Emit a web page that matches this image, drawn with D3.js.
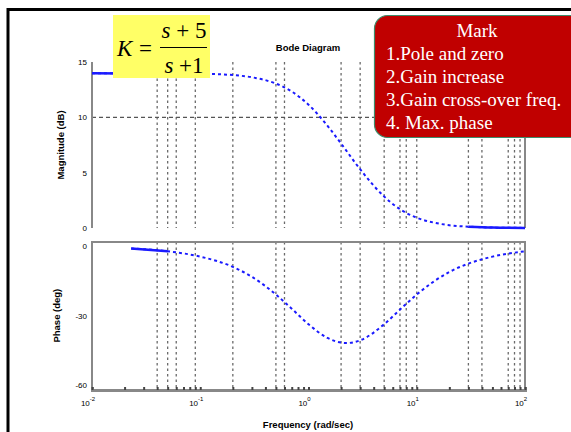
<!DOCTYPE html>
<html>
<head>
<meta charset="utf-8">
<script src="https://cdn.jsdelivr.net/npm/d3@7"></script>
<style>
  body { margin: 0; background: #fff; }
  svg { display: block; }
</style>
</head>
<body>
<div id="chart"></div>
<script>
// values
var magFreq = [0.01, 0.02, 0.05, 0.1, 0.2, 0.3, 0.5, 0.7, 1, 1.5, 2, 3, 5, 7, 10, 15, 20, 30, 50, 100];
var magDb = [13.98, 13.97, 13.95, 13.94, 13.82, 13.62, 13.05, 12.33, 11.14, 9.23, 7.63, 5.31, 2.84, 1.70, 0.93, 0.45, 0.25, 0.12, 0.04, 0.01];
var phaseFreq = [0.023, 0.05, 0.1, 0.2, 0.3, 0.5, 0.7, 1, 1.5, 2, 2.24, 3, 5, 7, 10, 20, 30, 50, 100];
var phaseDeg = [-1.1, -2.3, -4.6, -9.0, -13.3, -20.9, -27.0, -33.7, -39.6, -41.6, -41.8, -40.6, -33.7, -27.4, -20.9, -11.2, -7.6, -4.6, -2.3];
var gridFreq = [0.04, 0.05, 0.06, 0.09, 0.2, 0.5, 0.6, 2, 3, 5, 7, 8, 10, 30, 40, 70, 80, 90];
var decades = [0.01, 0.1, 1, 10, 100];
var decadeExp = ["-2", "-1", "0", "1", "2"];
var magTicks = [0, 5, 10, 15];
var phaseTicks = [-60, -30, 0];
var markLines = ["1.Pole and zero", "2.Gain increase", "3.Gain cross-over freq.", "4. Max. phase"];

var W = 571, H = 432;
var svg = d3.select("#chart").append("svg").attr("width", W).attr("height", H);

var x = d3.scaleLog().domain([0.01, 100]).range([92, 525]);
var yMag = d3.scaleLinear().domain([0, 15]).range([228, 62]);
var yPh = d3.scaleLinear().domain([-62, 1.7]).range([390, 242]);

// slide frame
svg.append("rect").attr("x", 8).attr("y", 9.5).attr("width", 620).attr("height", 500)
  .attr("fill", "none").attr("stroke", "#000").attr("stroke-width", 3);

// vertical grid
function vgrid(yScale) {
  svg.append("g").selectAll("line").data(gridFreq).enter().append("line")
    .attr("x1", function (d) { return x(d); }).attr("x2", function (d) { return x(d); })
    .attr("y1", yScale.range()[1]).attr("y2", yScale.range()[0])
    .attr("stroke", "#6a6a6a").attr("stroke-width", 1.3).attr("stroke-dasharray", "2.5,3");
}
vgrid(yMag);
vgrid(yPh);

// 10 dB dashed line
svg.append("line").attr("x1", x(0.01)).attr("x2", x(100))
  .attr("y1", yMag(10)).attr("y2", yMag(10))
  .attr("stroke", "#555").attr("stroke-width", 1.3).attr("stroke-dasharray", "4,3");

// magnitude axes (left + right only)
svg.append("line").attr("x1", x(0.01)).attr("x2", x(0.01)).attr("y1", yMag(15)).attr("y2", yMag(0))
  .attr("stroke", "#888").attr("stroke-width", 2);
svg.append("line").attr("x1", x(100)).attr("x2", x(100)).attr("y1", yMag(15)).attr("y2", yMag(0))
  .attr("stroke", "#888").attr("stroke-width", 2);

// phase box
svg.append("rect").attr("x", x(0.01)).attr("y", yPh.range()[1])
  .attr("width", x(100) - x(0.01)).attr("height", yPh.range()[0] - yPh.range()[1])
  .attr("fill", "none").attr("stroke", "#888").attr("stroke-width", 2);

// minor ticks on the lower axis
var minor = [];
decades.slice(0, 4).forEach(function (d) {
  for (var k = 1; k < 10; k++) minor.push(d * k);
});
minor.push(100);
svg.append("g").attr("transform", "translate(0," + yPh.range()[0] + ")")
  .call(d3.axisBottom(x).tickValues(minor).tickSize(-3).tickFormat(""))
  .call(function (g) {
    g.select(".domain").attr("stroke", "#888").attr("stroke-width", 3);
    g.selectAll(".tick line").attr("stroke", "#444").attr("stroke-width", 2);
  });

// tick labels
svg.append("g").selectAll("text").data(magTicks).enter().append("text")
  .attr("x", 87).attr("y", function (d) { return yMag(d) + 3; })
  .attr("text-anchor", "end").attr("font-family", "Arial, sans-serif").attr("font-size", 8)
  .text(function (d) { return d; });
svg.append("g").selectAll("text").data(phaseTicks).enter().append("text")
  .attr("x", 87).attr("y", function (d) { return yPh(d) + 3; })
  .attr("text-anchor", "end").attr("font-family", "Arial, sans-serif").attr("font-size", 8)
  .text(function (d) { return d; });
var xl = svg.append("g").selectAll("text").data(decades).enter().append("text")
  .attr("x", function (d) { return x(d) - 4; }).attr("y", 406)
  .attr("text-anchor", "middle").attr("font-family", "Arial, sans-serif").attr("font-size", 8);
xl.append("tspan").text("10");
xl.append("tspan").attr("dy", -5).attr("font-size", 6).text(function (d, i) { return decadeExp[i]; });

// axis titles
svg.append("text").attr("x", 308).attr("y", 51).attr("text-anchor", "middle")
  .attr("font-family", "Arial, sans-serif").attr("font-size", 9.5).attr("font-weight", "bold").text("Bode Diagram");
svg.append("text").attr("x", 308).attr("y", 428).attr("text-anchor", "middle")
  .attr("font-family", "Arial, sans-serif").attr("font-size", 9.5).attr("font-weight", "bold").text("Frequency (rad/sec)");
svg.append("text").attr("transform", "translate(64," + yMag(7.5) + ") rotate(-90)").attr("text-anchor", "middle")
  .attr("font-family", "Arial, sans-serif").attr("font-size", 9.5).attr("font-weight", "bold").text("Magnitude (dB)");
svg.append("text").attr("transform", "translate(60," + yPh(-30) + ") rotate(-90)").attr("text-anchor", "middle")
  .attr("font-family", "Arial, sans-serif").attr("font-size", 9.5).attr("font-weight", "bold").text("Phase (deg)");

// curves
var magData = magFreq.map(function (f, i) { return [f, magDb[i]]; });
var phData = phaseFreq.map(function (f, i) { return [f, phaseDeg[i]]; });
var magLine = d3.line().x(function (d) { return x(d[0]); }).y(function (d) { return yMag(d[1]); }).curve(d3.curveMonotoneX);
var phLine = d3.line().x(function (d) { return x(d[0]); }).y(function (d) { return yPh(d[1]); }).curve(d3.curveMonotoneX);

svg.append("path").attr("d", magLine(magData)).attr("fill", "none")
  .attr("stroke", "#1a1aff").attr("stroke-width", 2).attr("stroke-dasharray", "3,3");
svg.append("path").attr("d", phLine(phData)).attr("fill", "none")
  .attr("stroke", "#1a1aff").attr("stroke-width", 2).attr("stroke-dasharray", "3,3");
// flat ends drawn solid
svg.append("path").attr("d", magLine(magData.filter(function (d) { return d[0] <= 0.1; }))).attr("fill", "none")
  .attr("stroke", "#1a1aff").attr("stroke-width", 2.5);
svg.append("path").attr("d", magLine(magData.filter(function (d) { return d[0] >= 30; }))).attr("fill", "none")
  .attr("stroke", "#1a1aff").attr("stroke-width", 2.5);
svg.append("path").attr("d", phLine(phData.filter(function (d) { return d[0] <= 0.05; }))).attr("fill", "none")
  .attr("stroke", "#1a1aff").attr("stroke-width", 2.5);

// formula box
svg.append("rect").attr("x", 113).attr("y", 15).attr("width", 97).attr("height", 63).attr("fill", "#ffff66");
var ff = "'Liberation Serif', 'Times New Roman', serif";
svg.append("text").attr("x", 117).attr("y", 56).attr("font-family", ff).attr("font-size", 23)
  .attr("font-style", "italic").text("K");
svg.append("text").attr("x", 139).attr("y", 56).attr("font-family", ff).attr("font-size", 23).text("=");
svg.append("line").attr("x1", 160).attr("x2", 207).attr("y1", 47.5).attr("y2", 47.5)
  .attr("stroke", "#000").attr("stroke-width", 1.2);
var num = svg.append("text").attr("x", 184).attr("y", 38).attr("text-anchor", "middle")
  .attr("font-family", ff).attr("font-size", 23);
num.append("tspan").attr("font-style", "italic").text("s");
num.append("tspan").text(" + 5");
var den = svg.append("text").attr("x", 184).attr("y", 73).attr("text-anchor", "middle")
  .attr("font-family", ff).attr("font-size", 23);
den.append("tspan").attr("font-style", "italic").text("s");
den.append("tspan").text(" +1");

// red note box
svg.append("rect").attr("x", 374.5).attr("y", 15.5).attr("width", 215).attr("height", 122).attr("rx", 13)
  .attr("fill", "#c00000").attr("stroke", "#3d8c6c").attr("stroke-width", 1.2);
svg.append("text").attr("x", 477).attr("y", 37).attr("text-anchor", "middle")
  .attr("font-family", ff).attr("font-size", 19).attr("fill", "#fff").text("Mark");
svg.append("g").selectAll("text").data(markLines).enter().append("text")
  .attr("x", 386).attr("y", function (d, i) { return 60 + i * 23; })
  .attr("font-family", ff).attr("font-size", 19).attr("fill", "#fff")
  .text(function (d) { return d; });
</script>
</body>
</html>
